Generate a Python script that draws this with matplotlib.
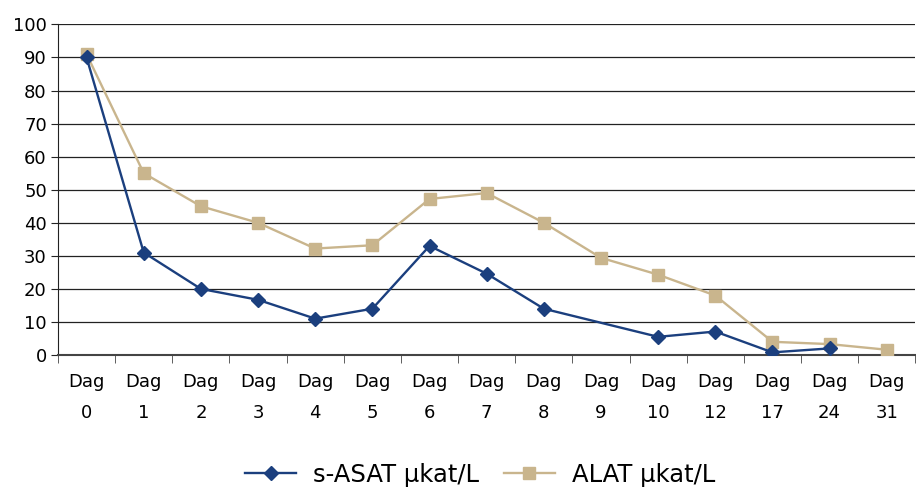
import matplotlib.pyplot as plt
import numpy as np

days = ['0', '1', '2', '3', '4', '5', '6', '7', '8', '9', '10', '12', '17', '24', '31']
asat = [90, 31, 20, 16.7, 11, 14, 33, 24.6, 14, np.nan, 5.5, 7.1, 0.8, 2, np.nan]
alat = [91, 55, 45, 40, 32.2, 33.2, 47.2, 49, 40, 29.4, 24.3, 18, 4, 3.3, 1.6]

plt.rcParams['font.family'] = ['DejaVu Sans']

blue = '#1b3f7e'
tan = '#c9b58d'

fig = plt.figure(figsize=(9.16, 4.88), dpi=100)
ax = fig.add_axes([0.0633, 0.2725, 0.936, 0.6775])

x = np.arange(len(days))
asat = np.array(asat, dtype=float)
alat = np.array(alat, dtype=float)

# gaps in s-ASAT are bridged, like in the source chart
ok = ~np.isnan(asat)
ax.plot(x[ok], asat[ok], color=blue, lw=1.7, marker='D', ms=7.5,
        label='s-ASAT µkat/L', zorder=4)
ax.plot(x, alat, color=tan, lw=1.7, marker='s', ms=9,
        label='ALAT µkat/L', zorder=3)

ax.set_xlim(-0.5, len(days) - 0.5)
ax.set_ylim(0, 100)
ax.set_yticks(range(0, 101, 10))
ax.yaxis.grid(True, color='#222222', lw=0.9)
ax.set_axisbelow(True)

ax.set_xticks(x)
ax.set_xticklabels(['Dag\n' + d for d in days], linespacing=1.95)
ax.set_xticks(np.arange(-0.5, len(days)), minor=True)
ax.tick_params(axis='x', which='major', length=0, pad=13, labelsize=13)
ax.tick_params(axis='x', which='minor', length=6, color='#444444', direction='out')
ax.tick_params(axis='y', length=5, color='#222222', labelsize=13, pad=3)

for s in ['top', 'right']:
    ax.spines[s].set_visible(False)
ax.spines['left'].set_color('#222222')
ax.spines['bottom'].set_color('#444444')
ax.spines['bottom'].set_linewidth(1.5)

fig.legend(loc='center', bbox_to_anchor=(0.524, 0.027), ncol=2, frameon=False,
           fontsize=17.5, handlelength=2.1, columnspacing=1.0, handletextpad=0.7)

fig.savefig('out.png', dpi=100)
